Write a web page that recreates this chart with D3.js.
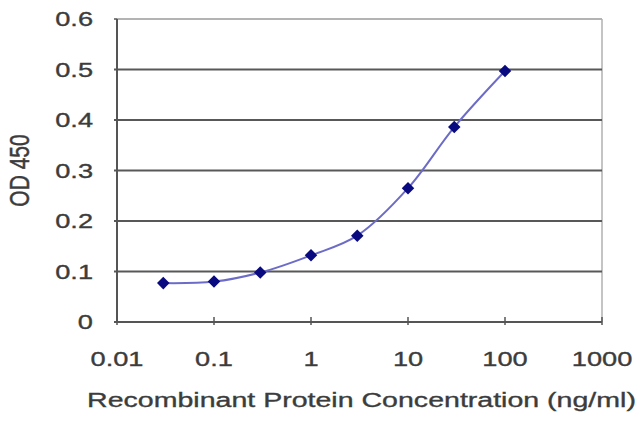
<!DOCTYPE html>
<html>
<head>
<meta charset="utf-8">
<script src="https://cdn.jsdelivr.net/npm/d3@7"></script>
<style>
  html, body { margin: 0; padding: 0; background: #fff; }
  text { font-family: "Liberation Sans", Arial, sans-serif; fill: #3c3c3c; stroke: #3c3c3c; stroke-width: 0.35; }
</style>
</head>
<body>
<div id="chart"></div>
<script>
// data
const concentrations = [0.03, 0.1, 0.3, 1, 3, 10, 30, 100];
const odValues = [0.077, 0.080, 0.098, 0.132, 0.171, 0.265, 0.386, 0.497];
const xTicks = [0.01, 0.1, 1, 10, 100, 1000];
const xTickLabels = ["0.01", "0.1", "1", "10", "100", "1000"];
const yTicks = [0, 0.1, 0.2, 0.3, 0.4, 0.5, 0.6];
const yTickLabels = ["0", "0.1", "0.2", "0.3", "0.4", "0.5", "0.6"];

const width = 640, height = 427;
const margin = { top: 19, right: 38, bottom: 105, left: 117 };
const stretch = 1.36; // text in the picture is wider than it is tall

const svg = d3.select("#chart")
  .append("svg")
  .attr("width", width)
  .attr("height", height);

const x = d3.scaleLog()
  .domain([0.01, 1000])
  .range([margin.left, width - margin.right]);

const y = d3.scaleLinear()
  .domain([0, 0.6])
  .range([height - margin.bottom, margin.top]);

// frame: light top and right edges
svg.append("line")
  .attr("x1", x(0.01)).attr("x2", x(1000))
  .attr("y1", y(0.6)).attr("y2", y(0.6))
  .attr("stroke", "#9a9a9a").attr("stroke-width", 1.5);
svg.append("line")
  .attr("x1", x(1000)).attr("x2", x(1000))
  .attr("y1", y(0.6)).attr("y2", y(0))
  .attr("stroke", "#b0b0b0").attr("stroke-width", 1.5);

// gridlines
svg.append("g")
  .selectAll("line")
  .data(yTicks.filter(d => d > 0 && d < 0.6))
  .enter()
  .append("line")
  .attr("x1", x(0.01) - 3)
  .attr("x2", x(1000))
  .attr("y1", d => y(d))
  .attr("y2", d => y(d))
  .attr("stroke", "#585858")
  .attr("stroke-width", 1.8);

// left and bottom axes
svg.append("line")
  .attr("x1", x(0.01)).attr("x2", x(0.01))
  .attr("y1", y(0.6)).attr("y2", y(0) + 1)
  .attr("stroke", "#555").attr("stroke-width", 2);
svg.append("line")
  .attr("x1", x(0.01) - 3).attr("x2", x(1000))
  .attr("y1", y(0)).attr("y2", y(0))
  .attr("stroke", "#555").attr("stroke-width", 2);

// small ticks on the x axis
svg.append("g")
  .selectAll("line")
  .data(xTicks)
  .enter()
  .append("line")
  .attr("x1", d => x(d)).attr("x2", d => x(d))
  .attr("y1", y(0) - 5).attr("y2", y(0) + 3)
  .attr("stroke", "#555").attr("stroke-width", 1.5);
svg.append("line")
  .attr("x1", x(0.01) - 3).attr("x2", x(0.01))
  .attr("y1", y(0.6)).attr("y2", y(0.6))
  .attr("stroke", "#555").attr("stroke-width", 1.5);

// tick labels
svg.append("g")
  .selectAll("text")
  .data(yTicks)
  .enter()
  .append("text")
  .attr("transform", d => `translate(${x(0.01) - 24},${y(d) + 7}) scale(${stretch},1)`)
  .attr("text-anchor", "end")
  .attr("font-size", 20)
  .text((d, i) => yTickLabels[i]);

svg.append("g")
  .selectAll("text")
  .data(xTicks)
  .enter()
  .append("text")
  .attr("transform", d => `translate(${x(d)},${y(0) + 44}) scale(${stretch},1)`)
  .attr("text-anchor", "middle")
  .attr("font-size", 20)
  .text((d, i) => xTickLabels[i]);

// axis titles
svg.append("text")
  .attr("transform", `translate(${(x(0.01) + x(1000)) / 2 + 2},${y(0) + 85}) scale(${stretch},1)`)
  .attr("text-anchor", "middle")
  .attr("font-size", 21)
  .text("Recombinant Protein Concentration (ng/ml)");

svg.append("text")
  .attr("transform", `translate(${29},${(y(0) + y(0.6)) / 2}) scale(${stretch},1) rotate(-90)`)
  .attr("text-anchor", "middle")
  .attr("font-size", 21)
  .text("OD 450");

// curve
const points = concentrations.map((c, i) => [x(c), y(odValues[i])]);

svg.append("path")
  .datum(points)
  .attr("d", d3.line().curve(d3.curveCatmullRom.alpha(0.5)))
  .attr("fill", "none")
  .attr("stroke", "#6c6cc8")
  .attr("stroke-width", 2);

svg.append("g")
  .selectAll("path")
  .data(points)
  .enter()
  .append("path")
  .attr("transform", d => `translate(${d[0]},${d[1]})`)
  .attr("d", d3.symbol().type(d3.symbolDiamond2).size(100))
  .attr("fill", "#0a0a80");
</script>
</body>
</html>
